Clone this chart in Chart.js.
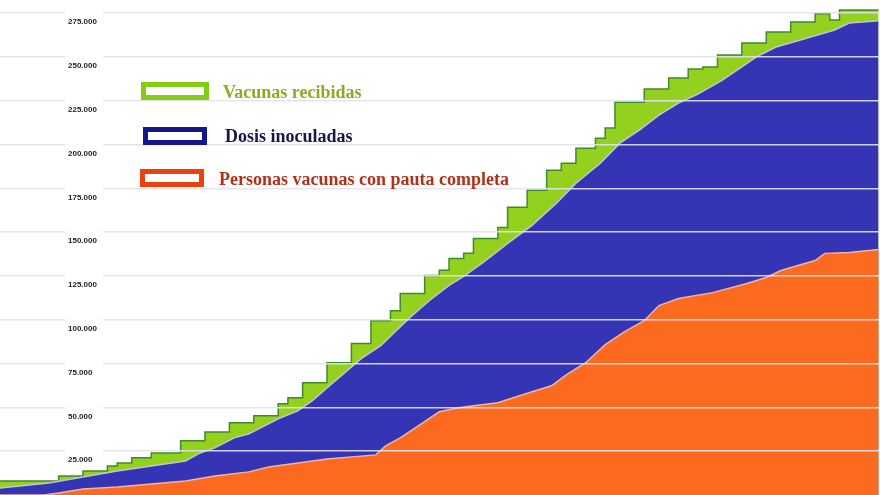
<!DOCTYPE html>
<html lang="es">
<head>
<meta charset="UTF-8">
<title>Vacunación</title>
<script src="https://cdn.jsdelivr.net/npm/chart.js"></script>
<style>
  html, body { margin: 0; padding: 0; background: #fff; }
  #wrap { width: 880px; height: 495px; }
</style>
</head>
<body>
<div id="wrap"><canvas id="grafico"></canvas></div>
<script>
// dias desde el inicio de la campaña
const recibidasDia   = [0, 12, 17, 22, 24, 27, 31, 37, 42, 47, 52, 57, 59, 62, 67, 72, 76, 80, 82, 87, 90, 92, 95, 97, 102, 104, 108, 112, 115, 118, 122, 124, 126, 132, 137, 141, 144, 147, 152, 157, 162, 167, 170, 172, 180];
const recibidasTotal = [8000, 10900, 13700, 16600, 18300, 21200, 24000, 30900, 36000, 41200, 45200, 52100, 55500, 64100, 75500, 86400, 99500, 105200, 115000, 125300, 128200, 135000, 137900, 146400, 152700, 164200, 173900, 185300, 189300, 197900, 203600, 209400, 224200, 231700, 238000, 243100, 244200, 251100, 258000, 264300, 270000, 274600, 271100, 276800, 276800];

const dosisDia   = [0, 10, 17, 24, 31, 38, 41, 44, 48, 51, 55, 57, 61, 64, 68, 74, 78, 84, 88, 92, 95, 99, 104, 109, 114, 118, 123, 127, 131, 135, 139, 143, 148, 155, 159, 164, 171, 174, 180];
const dosisTotal = [4000, 6900, 10300, 13700, 16600, 19400, 24000, 26900, 32600, 34900, 40600, 43500, 48000, 53800, 63500, 77800, 85200, 101300, 111000, 119600, 124700, 132700, 143600, 153900, 166500, 177900, 189300, 200800, 208200, 216800, 223700, 228800, 236800, 250000, 255700, 259700, 265400, 269400, 270600];

const pautaDia   = [0, 9, 12, 17, 24, 31, 38, 44, 51, 55, 61, 67, 77, 79, 82, 86, 90, 94, 97, 102, 109, 113, 116, 120, 124, 128, 132, 135, 139, 146, 153, 157, 160, 167, 169, 174, 180];
const pautaTotal = [0, 0, 1100, 3400, 4600, 6300, 8000, 10900, 13200, 16000, 18300, 20600, 22900, 28000, 32600, 40000, 47500, 49800, 50900, 52600, 58900, 62300, 68600, 75500, 85800, 93200, 99500, 108100, 112100, 115500, 120700, 124100, 128100, 133800, 137900, 138400, 140100];

const yTicks = [25000, 50000, 75000, 100000, 125000, 150000, 175000, 200000, 225000, 250000, 275000];

const series = ['Vacunas recibidas', 'Dosis inoculadas', 'Personas vacunas con pauta completa'];

function puntos(dias, valores) {
  return dias.map((d, i) => ({ x: d, y: valores[i] }));
}

function miles(v) {
  return String(v).replace(/\B(?=(\d{3})+(?!\d))/g, '.');
}

// estilos de la leyenda: caja y texto
const leyenda = [
  { caja: '#82cc14', texto: '#8cab22', bx: 141, by: 82, bw: 68, tx: 223, ty: 98 },
  { caja: '#16168c', texto: '#16164e', bx: 143, by: 127, bw: 64, tx: 225, ty: 142 },
  { caja: '#e8420e', texto: '#b1321a', bx: 140, by: 169, bw: 64, tx: 219, ty: 185 }
];

const etiquetas = {
  id: 'etiquetas',
  afterDraw(chart) {
    const ctx = chart.ctx;
    const y = chart.scales.y;
    ctx.save();
    ctx.font = 'bold 8px "Liberation Sans", Arial, sans-serif';
    ctx.textBaseline = 'middle';
    ctx.textAlign = 'left';
    yTicks.forEach(v => {
      const py = y.getPixelForValue(v);
      ctx.fillStyle = '#fff';
      ctx.fillRect(65, py - 2, 38, 16);
      ctx.fillStyle = '#1e1e1e';
      ctx.fillText(miles(v), 68, py + 9);
    });

    ctx.font = 'bold 18px "Liberation Serif", "Times New Roman", serif';
    ctx.textBaseline = 'alphabetic';
    chart.data.datasets.forEach((ds, i) => {
      const s = leyenda[i];
      ctx.fillStyle = '#fff';
      ctx.fillRect(s.bx, s.by, s.bw, 18);
      ctx.strokeStyle = s.caja;
      ctx.lineWidth = 5;
      ctx.strokeRect(s.bx + 2.5, s.by + 2.5, s.bw - 5, 13);
      ctx.fillStyle = s.texto;
      ctx.fillText(ds.label, s.tx, s.ty);
    });
    ctx.restore();
  }
};

new Chart(document.getElementById('grafico'), {
  type: 'line',
  data: {
    datasets: [
      {
        label: series[0],
        data: puntos(recibidasDia, recibidasTotal),
        stepped: true,
        borderColor: '#3f8a2c',
        borderWidth: 1.5,
        backgroundColor: '#94d11f',
        fill: 'origin',
        order: 3
      },
      {
        label: series[1],
        data: puntos(dosisDia, dosisTotal),
        borderColor: '#c4c4d6',
        borderWidth: 1.5,
        backgroundColor: '#3434b4',
        fill: 'origin',
        order: 2
      },
      {
        label: series[2],
        data: puntos(pautaDia, pautaTotal),
        borderColor: '#f2b4a2',
        borderWidth: 1.5,
        backgroundColor: '#fb6a1e',
        fill: 'origin',
        order: 1
      }
    ]
  },
  options: {
    responsive: true,
    maintainAspectRatio: false,
    animation: false,
    layout: { padding: 0 },
    elements: { point: { radius: 0 }, line: { tension: 0 } },
    plugins: { legend: { display: false }, tooltip: { enabled: false } },
    scales: {
      x: { type: 'linear', min: 0, max: 180.3, display: false },
      y: {
        min: 0,
        max: 282500,
        afterBuildTicks: scale => { scale.ticks = yTicks.map(v => ({ value: v })); },
        ticks: { display: false },
        border: { display: false },
        grid: { color: 'rgba(226,226,236,0.9)', lineWidth: 1.5, drawTicks: false, z: 1 }
      }
    }
  },
  plugins: [etiquetas]
});
</script>
</body>
</html>
